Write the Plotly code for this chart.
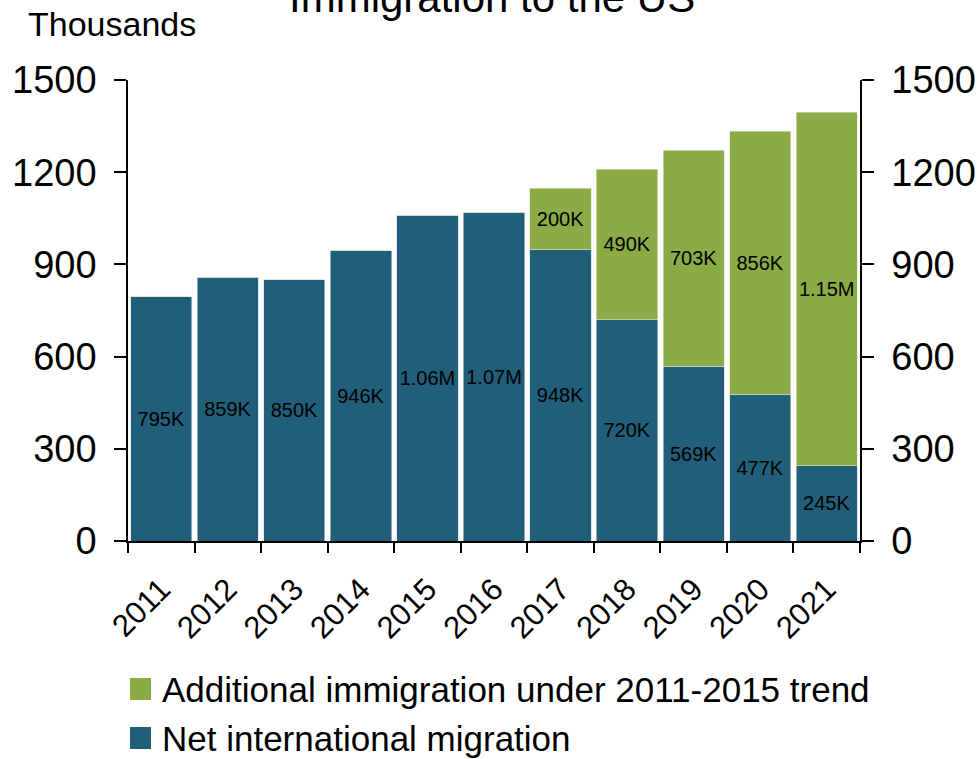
import plotly.graph_objects as go

years = ["2011", "2012", "2013", "2014", "2015", "2016", "2017", "2018", "2019", "2020", "2021"]
net_migration = [795, 859, 850, 946, 1060, 1070, 948, 720, 569, 477, 245]
net_labels = ["795K", "859K", "850K", "946K", "1.06M", "1.07M", "948K", "720K", "569K", "477K", "245K"]
additional = [0, 0, 0, 0, 0, 0, 200, 490, 703, 856, 1150]
additional_labels = ["", "", "", "", "", "", "200K", "490K", "703K", "856K", "1.15M"]
y_ticks = [0, 300, 600, 900, 1200, 1500]
legend_names = ["Additional immigration under 2011-2015 trend", "Net international migration"]

FONT = "Liberation Sans, Arial, sans-serif"
TEAL = "#215E79"
GREEN = "#8AAB45"

fig = go.Figure()
fig.add_trace(go.Bar(
    x=years, y=net_migration, name=legend_names[1],
    marker=dict(color=TEAL, line=dict(color="#cfdbe0", width=0.6)),
    text=net_labels, textposition="inside", insidetextanchor="middle", textangle=0,
    textfont=dict(color="black", size=20, family=FONT),
    constraintext="none", showlegend=False,
))
fig.add_trace(go.Bar(
    x=years, y=additional, name=legend_names[0],
    marker=dict(color=GREEN, line=dict(color="#dfe8cc", width=0.6)),
    text=additional_labels, textposition="inside", insidetextanchor="middle", textangle=0,
    textfont=dict(color="black", size=20, family=FONT),
    constraintext="none", showlegend=False,
))
# invisible trace to carry the right-hand axis
fig.add_trace(go.Scatter(x=years, y=net_migration, yaxis="y2", mode="markers",
                         marker=dict(opacity=0), showlegend=False, hoverinfo="skip"))

axis_common = dict(range=[0, 1500], tickvals=y_ticks, showgrid=False, zeroline=False,
                   showline=True, linecolor="black", linewidth=1.5,
                   ticks="outside", ticklen=12, tickwidth=1.5, tickcolor="black",
                   ticklabelstandoff=10,
                   tickfont=dict(size=38, family=FONT, color="black"))

# custom legend (square swatches + text)
shapes = []
annotations = []
legend_colors = [GREEN, TEAL]
legend_centers_px = [689, 738]
for name, col, cy in zip(legend_names, legend_colors, legend_centers_px):
    shapes.append(dict(type="rect", xref="paper", yref="paper",
                       x0=(130 - 128) / 732, x1=(151 - 128) / 732,
                       y0=(541 - (cy + 11)) / 461, y1=(541 - (cy - 11)) / 461,
                       fillcolor=col, line=dict(width=0)))
    annotations.append(dict(text=name, xref="paper", yref="paper",
                            x=(160 - 128) / 732, y=(541 - cy) / 461,
                            xanchor="left", yanchor="middle", showarrow=False,
                            font=dict(size=35, family=FONT, color="black")))

annotations += [
    dict(text="Immigration to the US", xref="paper", yref="paper", x=0.497, y=1.124,
         xanchor="center", yanchor="bottom", showarrow=False,
         font=dict(size=42, family=FONT, color="black")),
    dict(text="Thousands", xref="paper", yref="paper", x=-0.14, y=1.121,
         xanchor="left", yanchor="middle", showarrow=False,
         font=dict(size=34, family=FONT, color="black")),
]

fig.update_layout(
    width=980, height=759,
    barmode="stack", bargap=0.08,
    plot_bgcolor="white", paper_bgcolor="white",
    margin=dict(l=128, r=120, t=80, b=218, autoexpand=False),
    font=dict(family=FONT, color="black"),
    xaxis=dict(type="category", tickson="boundaries", ticks="outside", ticklen=10,
               tickwidth=1.5, tickcolor="black", showline=True, linecolor="black",
               linewidth=1.5, tickangle=-45, ticklabelstandoff=16,
               tickfont=dict(size=31, family=FONT, color="black"),
               showgrid=False, range=[-0.5, 10.5]),
    yaxis=axis_common,
    yaxis2=dict(overlaying="y", side="right", **axis_common),
    showlegend=False,
    shapes=shapes,
    annotations=annotations,
)

fig.write_html("out.html", config={"displayModeBar": False},
               post_script="document.body.style.margin='0';document.body.style.overflow='hidden';")
